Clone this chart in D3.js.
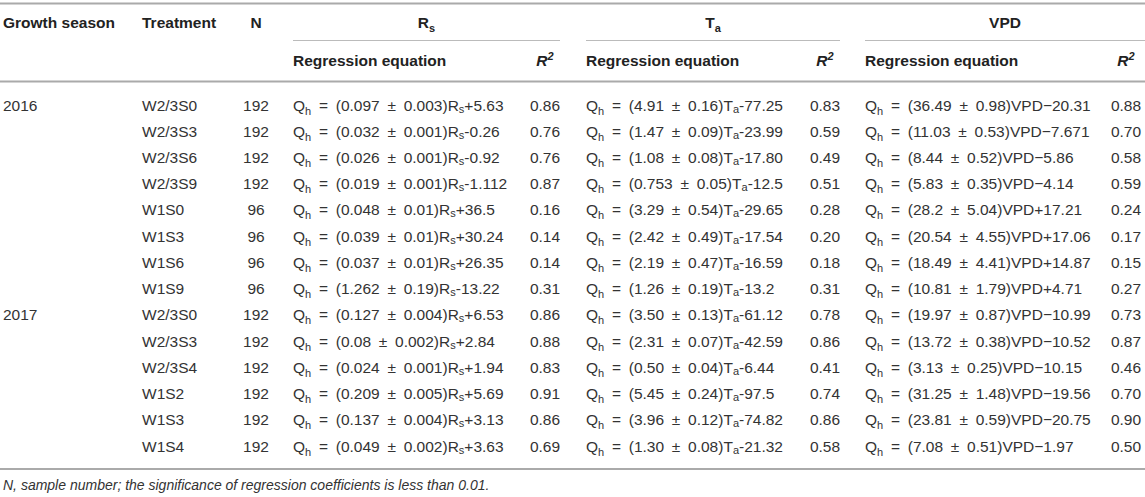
<!DOCTYPE html>
<html>
<head>
<meta charset="utf-8">
<script src="https://cdn.jsdelivr.net/npm/d3@7/dist/d3.min.js"></script>
<style>
    html, body { margin: 0; padding: 0; background: #fff; }
    svg text { font-family: "Liberation Sans", Arial, Helvetica, sans-serif; }
</style>
</head>
<body>
<div id="table"></div>
<script>
// table content
var seasons = ["2016", "", "", "", "", "", "", "", "2017", "", "", "", "", ""];
var treatments = ["W2/3S0", "W2/3S3", "W2/3S6", "W2/3S9", "W1S0", "W1S3", "W1S6", "W1S9",
    "W2/3S0", "W2/3S3", "W2/3S4", "W1S2", "W1S3", "W1S4"];
var sampleN = [192, 192, 192, 192, 96, 96, 96, 96, 192, 192, 192, 192, 192, 192];

var rsSlope = ["0.097", "0.032", "0.026", "0.019", "0.048", "0.039", "0.037", "1.262",
    "0.127", "0.08", "0.024", "0.209", "0.137", "0.049"];
var rsErr = ["0.003", "0.001", "0.001", "0.001", "0.01", "0.01", "0.01", "0.19",
    "0.004", "0.002", "0.001", "0.005", "0.004", "0.002"];
var rsIntercept = ["+5.63", "-0.26", "-0.92", "-1.112", "+36.5", "+30.24", "+26.35", "-13.22",
    "+6.53", "+2.84", "+1.94", "+5.69", "+3.13", "+3.63"];
var rsR2 = ["0.86", "0.76", "0.76", "0.87", "0.16", "0.14", "0.14", "0.31",
    "0.86", "0.88", "0.83", "0.91", "0.86", "0.69"];

var taSlope = ["4.91", "1.47", "1.08", "0.753", "3.29", "2.42", "2.19", "1.26",
    "3.50", "2.31", "0.50", "5.45", "3.96", "1.30"];
var taErr = ["0.16", "0.09", "0.08", "0.05", "0.54", "0.49", "0.47", "0.19",
    "0.13", "0.07", "0.04", "0.24", "0.12", "0.08"];
var taIntercept = ["-77.25", "-23.99", "-17.80", "-12.5", "-29.65", "-17.54", "-16.59", "-13.2",
    "-61.12", "-42.59", "-6.44", "-97.5", "-74.82", "-21.32"];
var taR2 = ["0.83", "0.59", "0.49", "0.51", "0.28", "0.20", "0.18", "0.31",
    "0.78", "0.86", "0.41", "0.74", "0.86", "0.58"];

var vpdSlope = ["36.49", "11.03", "8.44", "5.83", "28.2", "20.54", "18.49", "10.81",
    "19.97", "13.72", "3.13", "31.25", "23.81", "7.08"];
var vpdErr = ["0.98", "0.53", "0.52", "0.35", "5.04", "4.55", "4.41", "1.79",
    "0.87", "0.38", "0.25", "1.48", "0.59", "0.51"];
var vpdIntercept = ["\u221220.31", "\u22127.671", "\u22125.86", "\u22124.14", "+17.21", "+17.06", "+14.87", "+4.71",
    "\u221210.99", "\u221210.52", "\u221210.15", "\u221219.56", "\u221220.75", "\u22121.97"];
var vpdR2 = ["0.88", "0.70", "0.58", "0.59", "0.24", "0.17", "0.15", "0.27",
    "0.73", "0.87", "0.46", "0.70", "0.90", "0.50"];

var footnote = "N, sample number; the significance of regression coefficients is less than 0.01.";

var width = 1145,
    height = 497,
    fontSize = 15.5,
    subSize = 11,
    textColor = "#333",
    headColor = "#222",
    ruleColor = "#aaa",
    sp = "\u2002"; // wide space used in equations

var groups = [
    { name: "R", sub: "s", slope: rsSlope, err: rsErr, intercept: rsIntercept, r2: rsR2, x0: 293, x1: 560, r2x: 545 },
    { name: "T", sub: "a", slope: taSlope, err: taErr, intercept: taIntercept, r2: taR2, x0: 586, x1: 840, r2x: 825 },
    { name: "VPD", sub: "", slope: vpdSlope, err: vpdErr, intercept: vpdIntercept, r2: vpdR2, x0: 865, x1: 1145, r2x: 1126 }
];

var rowY = d3.scalePoint()
    .domain(d3.range(treatments.length))
    .range([105, 446]);

var svg = d3.select("#table").append("svg")
    .attr("width", width)
    .attr("height", height);

// horizontal rules
svg.selectAll("line.rule")
    .data([3.5, 81.5, 469])
    .enter().append("line")
    .attr("class", "rule")
    .attr("x1", 0).attr("x2", width)
    .attr("y1", function(d) { return d; })
    .attr("y2", function(d) { return d; })
    .attr("stroke", ruleColor)
    .attr("stroke-width", 2);

svg.selectAll("line.span")
    .data(groups)
    .enter().append("line")
    .attr("class", "span")
    .attr("x1", function(d) { return d.x0; })
    .attr("x2", function(d) { return d.x1; })
    .attr("y1", 40.5).attr("y2", 40.5)
    .attr("stroke", "#bbb")
    .attr("stroke-width", 1);

function addText(sel, x, y, anchor) {
    return sel.append("text")
        .attr("x", x)
        .attr("y", y)
        .attr("text-anchor", anchor || "start")
        .attr("font-size", fontSize)
        .attr("fill", textColor);
}

// segments: [text, shift] with shift > 0 meaning subscript
function addSegments(t, segs) {
    var level = 0;
    segs.forEach(function(s) {
        var shift = s[1] || 0;
        t.append("tspan")
            .attr("dy", shift - level)
            .attr("font-size", shift ? subSize : fontSize)
            .text(s[0]);
        level = shift;
    });
    return t;
}

// header row
var headY = 28;
[["Growth season", 3, "start"], ["Treatment", 142, "start"], ["N", 256, "middle"]].forEach(function(h) {
    addText(svg, h[1], headY, h[2]).attr("font-weight", "bold").attr("fill", headColor).text(h[0]);
});

groups.forEach(function(g) {
    var t = addText(svg, (g.x0 + g.x1) / 2, headY, "middle")
        .attr("font-weight", "bold")
        .attr("fill", headColor);
    if (g.sub) addSegments(t, [[g.name, 0], [g.sub, 4]]);
    else t.text(g.name);

    addText(svg, g.x0, 66, "start")
        .attr("font-weight", "bold")
        .attr("fill", headColor)
        .text("Regression equation");

    var r = addText(svg, g.r2x, 66, "middle")
        .attr("font-weight", "bold")
        .attr("font-style", "italic")
        .attr("fill", headColor);
    addSegments(r, [["R", 0], ["2", -6]]);
});

// body rows
var rows = svg.selectAll("g.row")
    .data(treatments)
    .enter().append("g")
    .attr("class", "row")
    .attr("transform", function(d, i) { return "translate(0," + (rowY(i) + 5.5) + ")"; });

rows.each(function(d, i) {
    var row = d3.select(this);
    addText(row, 3, 0).text(seasons[i]);
    addText(row, 142, 0).text(d);
    addText(row, 256, 0, "middle").text(sampleN[i]);

    groups.forEach(function(g) {
        var t = addText(row, g.x0, 0).attr("xml:space", "preserve");
        var segs = [["Q", 0], ["h", 4],
            [sp + "=" + sp + "(" + g.slope[i] + sp + "\u00b1" + sp + g.err[i] + ")", 0]];
        if (g.sub) segs.push([g.name, 0], [g.sub, 2], [g.intercept[i], 0]);
        else segs.push([g.name + g.intercept[i], 0]);
        addSegments(t, segs);

        addText(row, g.r2x, 0, "middle").text(g.r2[i]);
    });
});

addText(svg, 3, 490)
    .attr("font-size", 14)
    .attr("font-style", "italic")
    .text(footnote);
</script>
</body>
</html>
